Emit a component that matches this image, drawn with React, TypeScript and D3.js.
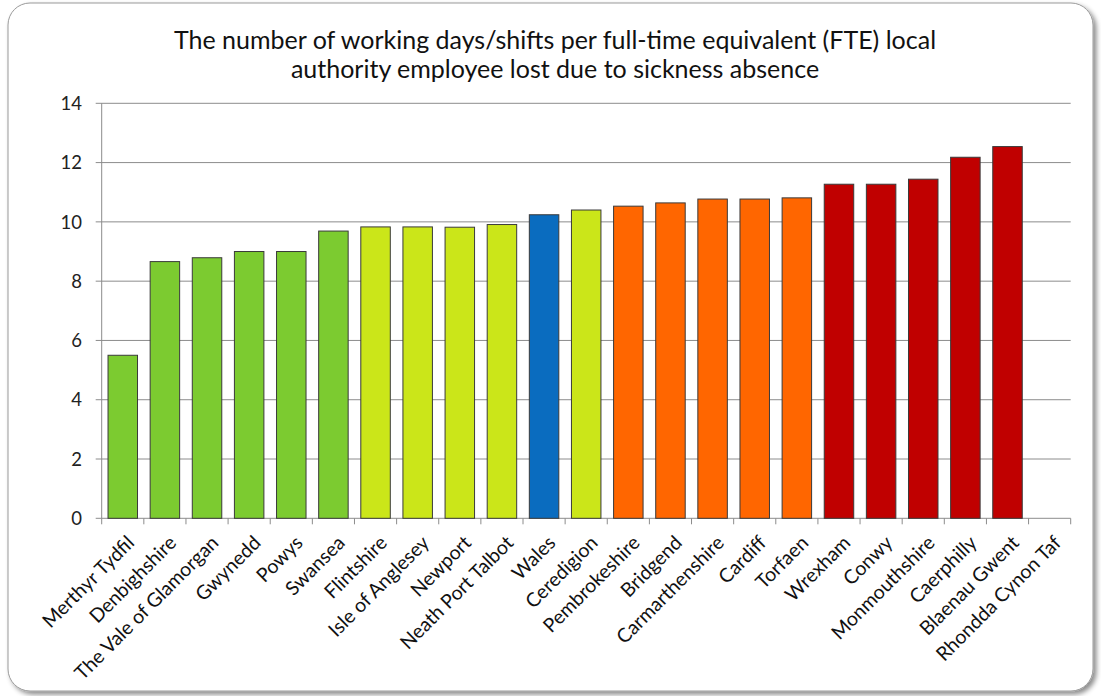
import React from "react";
import * as d3 from "d3";

const categories = [
  "Merthyr Tydfil", "Denbighshire", "The Vale of Glamorgan", "Gwynedd", "Powys", "Swansea",
  "Flintshire", "Isle of Anglesey", "Newport", "Neath Port Talbot", "Wales", "Ceredigion",
  "Pembrokeshire", "Bridgend", "Carmarthenshire", "Cardiff", "Torfaen", "Wrexham", "Conwy",
  "Monmouthshire", "Caerphilly", "Blaenau Gwent", "Rhondda Cynon Taf",
];
const values: (number | null)[] = [
  5.5, 8.66, 8.79, 9.0, 9.0, 9.69,
  9.83, 9.83, 9.82, 9.91, 10.24, 10.4,
  10.53, 10.64, 10.77, 10.77, 10.81, 11.27, 11.27,
  11.44, 12.18, 12.54, null,
];
const bandColors = [
  "g", "g", "g", "g", "g", "g",
  "y", "y", "y", "y", "b", "y",
  "o", "o", "o", "o", "o", "r", "r",
  "r", "r", "r", "r",
];
const palette: Record<string, string> = {
  g: "#7ccb30",
  y: "#cbe619",
  b: "#0a6cbf",
  o: "#ff6600",
  r: "#c00000",
};
const yTicks = [0, 2, 4, 6, 8, 10, 12, 14];
const titleLines = [
  "The number of working days/shifts per full-time equivalent (FTE) local",
  "authority employee lost due to sickness absence",
];

const W = 1101;
const H = 696;
const plot = { left: 101.7, right: 1070.7, top: 103.3, bottom: 518.3 };
const FONT = "Lato, 'Open Sans', sans-serif";

export default function App() {
  const x = d3
    .scaleBand<string>()
    .domain(categories)
    .range([plot.left, plot.right])
    .paddingInner(0.3)
    .paddingOuter(0.15);
  const y = d3.scaleLinear().domain([0, 14]).range([plot.bottom, plot.top]);
  const step = x.step();
  const boundaries = d3.range(categories.length + 1).map((i) => plot.left + i * step);

  return (
    <svg
      width={W}
      height={H}
      style={{ position: "absolute", left: 0, top: 0, background: "#fff" }}
    >
      <defs>
        <filter id="shadow" x="-5%" y="-5%" width="115%" height="115%">
          <feDropShadow dx="3" dy="3" stdDeviation="2.5" floodColor="#000" floodOpacity="0.45" />
        </filter>
      </defs>
      <rect
        x={8}
        y={3}
        width={1085}
        height={688}
        rx={22}
        ry={22}
        fill="#fff"
        stroke="#9a9a9a"
        strokeWidth={1}
        filter="url(#shadow)"
      />
      {titleLines.map((t, i) => (
        <text
          key={i}
          x={555}
          y={49 + i * 29}
          textAnchor="middle"
          fontFamily={FONT}
          fontSize={25}
          fill="#111"
        >
          {t}
        </text>
      ))}
      {yTicks.map((v) => (
        <g key={v}>
          <line
            x1={plot.left - 6}
            x2={plot.right}
            y1={y(v)}
            y2={y(v)}
            stroke="#8c8c8c"
            strokeWidth={1}
          />
          <text
            x={82}
            y={y(v)}
            dy="0.36em"
            textAnchor="end"
            fontFamily={FONT}
            fontSize={18.5}
            fill="#222"
          >
            {v}
          </text>
        </g>
      ))}
      <line x1={plot.left} x2={plot.left} y1={plot.top} y2={plot.bottom} stroke="#8c8c8c" />
      {boundaries.map((bx, i) => (
        <line key={i} x1={bx} x2={bx} y1={plot.bottom} y2={plot.bottom + 6} stroke="#8c8c8c" />
      ))}
      {categories.map((c, i) => {
        const v = values[i];
        if (v == null) return null;
        return (
          <rect
            key={c}
            x={x(c)!}
            y={y(v)}
            width={x.bandwidth()}
            height={y(0) - y(v)}
            fill={palette[bandColors[i]]}
            stroke="#3a3a3a"
            strokeWidth={1}
          />
        );
      })}
      {categories.map((c) => {
        const cx = x(c)! + x.bandwidth() / 2 + 2;
        const cy = plot.bottom + 15;
        return (
          <text
            key={c}
            x={cx}
            y={cy}
            textAnchor="end"
            dominantBaseline="hanging"
            transform={`rotate(-45, ${cx}, ${cy})`}
            fontFamily={FONT}
            fontSize={19.5}
            fill="#111"
          >
            {c}
          </text>
        );
      })}
    </svg>
  );
}
